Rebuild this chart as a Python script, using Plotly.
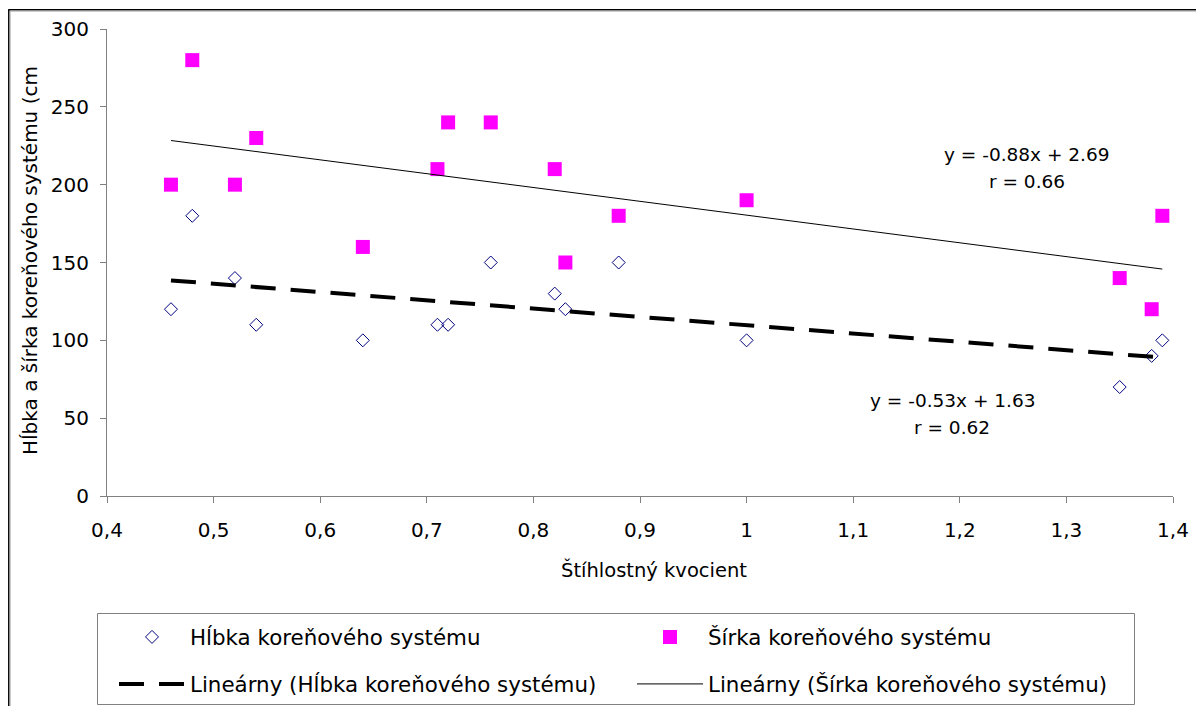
import numpy as np
import plotly.graph_objects as go

# ---- data ----
kvocient = [0.46, 0.48, 0.52, 0.54, 0.64, 0.71, 0.72, 0.76, 0.82, 0.83, 0.88, 1.00, 1.35, 1.38, 1.39]
hlbka = [120, 180, 140, 110, 100, 110, 110, 150, 130, 120, 150, 100, 70, 90, 100]
sirka = [200, 280, 200, 230, 160, 210, 240, 240, 210, 150, 180, 190, 140, 120, 180]

x_tickvals = [0.4, 0.5, 0.6, 0.7, 0.8, 0.9, 1.0, 1.1, 1.2, 1.3, 1.4]
x_ticktext = ["0,4", "0,5", "0,6", "0,7", "0,8", "0,9", "1", "1,1", "1,2", "1,3", "1,4"]
y_tickvals = [0, 50, 100, 150, 200, 250, 300]

name_h = "Hĺbka koreňového systému"
name_s = "Šírka koreňového systému"
name_lh = "Lineárny (Hĺbka koreňového systému)"
name_ls = "Lineárny (Šírka koreňového systému)"
eq_s = ["y = -0.88x + 2.69", "r = 0.66"]
eq_h = ["y = -0.53x + 1.63", "r = 0.62"]
x_title = "Štíhlostný kvocient"
y_title = "Hĺbka a šírka koreňového systému (cm"

FONT = "DejaVu Sans"
OFF = 8  # page body margin
W, H = 1204 - OFF, 706 - OFF
ML, MR, MT, MB = 107 - OFF, 31, 29 - OFF, 210
PW, PH = W - ML - MR, H - MT - MB


def px2paper_x(sx):
    return (sx - OFF - ML) / PW


def px2paper_y(sy):
    return (H - MB - (sy - OFF)) / PH


x = np.array(kvocient)
xs = np.array([x.min(), x.max()])
fit_h = np.polyfit(x, np.array(hlbka), 1)
fit_s = np.polyfit(x, np.array(sirka), 1)

fig = go.Figure()
fig.add_trace(go.Scatter(
    x=kvocient, y=hlbka, mode="markers", name=name_h, legend="legend",
    marker=dict(symbol="diamond-open", size=10, color="#000080", line=dict(width=1, color="#000080")),
))
fig.add_trace(go.Scatter(
    x=kvocient, y=sirka, mode="markers", name=name_s, legend="legend",
    marker=dict(symbol="square", size=14, color="#FF00FF", line=dict(width=0)),
))
fig.add_trace(go.Scatter(
    x=xs, y=np.polyval(fit_h, xs), mode="lines", name=name_lh, legend="legend2",
    line=dict(color="black", width=4, dash="25px,15px"),
))
fig.add_trace(go.Scatter(
    x=xs, y=np.polyval(fit_s, xs), mode="lines", name=name_ls, legend="legend2",
    line=dict(color="black", width=1),
))

ann_font = dict(family=FONT, size=18.5, color="black")
annotations = [
    dict(x=1.263, y=219.5, xref="x", yref="y", text=eq_s[0], showarrow=False, font=ann_font, xanchor="center", yanchor="middle"),
    dict(x=1.263, y=202.1, xref="x", yref="y", text=eq_s[1], showarrow=False, font=ann_font, xanchor="center", yanchor="middle"),
    dict(x=1.193, y=61.2, xref="x", yref="y", text=eq_h[0], showarrow=False, font=ann_font, xanchor="center", yanchor="middle"),
    dict(x=1.193, y=43.8, xref="x", yref="y", text=eq_h[1], showarrow=False, font=ann_font, xanchor="center", yanchor="middle"),
    dict(x=px2paper_x(654), y=px2paper_y(570), xref="paper", yref="paper", text=x_title, showarrow=False,
         font=dict(family=FONT, size=19.5, color="black"), xanchor="center", yanchor="middle"),
    dict(x=px2paper_x(30), y=px2paper_y(261), xref="paper", yref="paper", text=y_title, showarrow=False,
         textangle=-90, font=dict(family=FONT, size=20, color="black"), xanchor="center", yanchor="middle"),
]

shapes = [
    # outer chart frame (black + grey shadow)
    dict(type="line", xref="paper", yref="paper", x0=px2paper_x(8.2), x1=px2paper_x(1300), y0=px2paper_y(9.7), y1=px2paper_y(9.7),
         line=dict(color="black", width=1.5)),
    dict(type="line", xref="paper", yref="paper", x0=px2paper_x(9.5), x1=px2paper_x(1300), y0=px2paper_y(11), y1=px2paper_y(11),
         line=dict(color="#9a9a9a", width=1)),
    dict(type="line", xref="paper", yref="paper", x0=px2paper_x(8.8), x1=px2paper_x(8.8), y0=px2paper_y(9.7), y1=px2paper_y(800),
         line=dict(color="black", width=1.5)),
    dict(type="line", xref="paper", yref="paper", x0=px2paper_x(10), x1=px2paper_x(10), y0=px2paper_y(11), y1=px2paper_y(800),
         line=dict(color="#9a9a9a", width=1)),
    # legend box
    dict(type="rect", xref="paper", yref="paper", x0=px2paper_x(97.5), x1=px2paper_x(1134.5), y0=px2paper_y(613.5), y1=px2paper_y(704.5),
         line=dict(color="#808080", width=1)),
]

leg_common = dict(orientation="h", xanchor="left", yanchor="middle", bgcolor="rgba(0,0,0,0)", borderwidth=0,
                  font=dict(family=FONT, size=21.4, color="black"), itemwidth=66, entrywidth=437,
                  itemclick=False, itemdoubleclick=False)

fig.update_layout(
    width=W, height=H,
    margin=dict(l=ML, r=MR, t=MT, b=MB, autoexpand=False),
    paper_bgcolor="white", plot_bgcolor="white",
    font=dict(family=FONT, size=20, color="black"),
    showlegend=True,
    legend=dict(x=px2paper_x(114), y=px2paper_y(637), **leg_common),
    legend2=dict(x=px2paper_x(114), y=px2paper_y(684), **leg_common),
    xaxis=dict(range=[0.4, 1.4], tickvals=x_tickvals, ticktext=x_ticktext, showgrid=False, zeroline=False,
               showline=True, linecolor="#808080", linewidth=1, ticks="outside", ticklen=6, tickcolor="#808080",
               tickfont=dict(family=FONT, size=20, color="black"), ticklabelstandoff=10),
    yaxis=dict(range=[0, 300], tickvals=y_tickvals, showgrid=False, zeroline=False,
               showline=True, linecolor="#808080", linewidth=1, ticks="outside", ticklen=6, tickcolor="#808080",
               tickfont=dict(family=FONT, size=20, color="black"), ticklabelstandoff=7),
    annotations=annotations,
    shapes=shapes,
)

fig.write_html("out.html")
